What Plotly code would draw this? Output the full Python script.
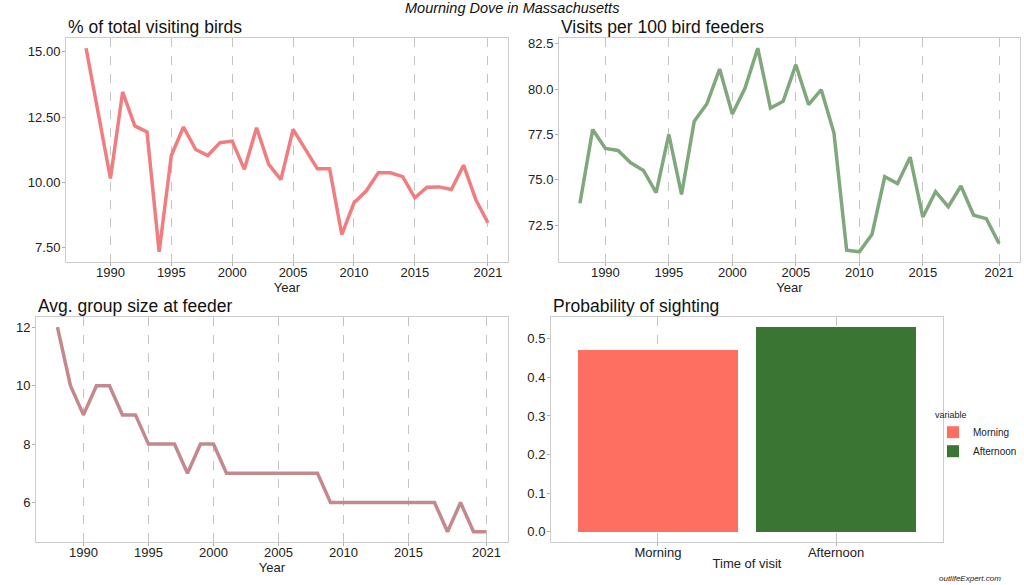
import plotly.graph_objects as go

# ---------------- data ----------------
years = list(range(1988, 2022))

pct_total = [15.13, 12.60, 10.15, 13.46, 12.16, 11.93, 7.35, 11.03, 12.12, 11.26,
             11.03, 11.52, 11.58, 10.50, 12.09, 10.69, 10.11, 12.03, 11.26, 10.52,
             10.52, 8.01, 9.22, 9.67, 10.37, 10.37, 10.22, 9.41, 9.82, 9.83,
             9.73, 10.66, 9.35, 8.46]

visits_per_100 = [73.71, 77.77, 76.73, 76.62, 75.94, 75.52, 74.29, 77.50, 74.20, 78.23,
                  79.20, 81.11, 78.63, 80.06, 82.26, 78.96, 79.33, 81.35, 79.15, 79.97,
                  77.59, 71.12, 71.03, 72.00, 75.17, 74.79, 76.25, 72.95, 74.35, 73.52,
                  74.66, 73.05, 72.86, 71.49]

group_size = [12, 10, 9, 10, 10, 9, 9, 8, 8, 8,
              7, 8, 8, 7, 7, 7, 7, 7, 7, 7,
              7, 6, 6, 6, 6, 6, 6, 6, 6, 6,
              5, 6, 5, 5]

times = ["Morning", "Afternoon"]
prob_sighting = [0.47, 0.53]

year_ticks = [1990, 1995, 2000, 2005, 2010, 2015, 2021]
pct_ticks = [7.5, 10.0, 12.5, 15.0]
visit_ticks = [72.5, 75.0, 77.5, 80.0, 82.5]
group_ticks = [6, 8, 10, 12]
prob_ticks = [0.0, 0.1, 0.2, 0.3, 0.4, 0.5]

# ---------------- style ----------------
FONT = "Liberation Sans, Arial, sans-serif"
TXT = "#222222"
BORDER = "#cccccc"
GRID = "#c4c4c4"
TICKC = "#b0b0b0"
W, H = 1024, 585

def px_x(p):
    return p / W

def px_y(p):
    return 1 - p / H

fig = go.Figure()

fig.add_trace(go.Scatter(x=years, y=pct_total, mode="lines",
                         line=dict(color="#F07E80", width=3.5),
                         xaxis="x", yaxis="y", showlegend=False))
fig.add_trace(go.Scatter(x=years, y=visits_per_100, mode="lines",
                         line=dict(color="#80A87C", width=3.5),
                         xaxis="x2", yaxis="y2", showlegend=False))
fig.add_trace(go.Scatter(x=years, y=group_size, mode="lines",
                         line=dict(color="#C4898D", width=3.5),
                         xaxis="x3", yaxis="y3", showlegend=False))
bar_colors = ["#FF6F61", "#3B7533"]
for t, v, c in zip(times, prob_sighting, bar_colors):
    fig.add_trace(go.Bar(x=[t], y=[v], name=t, marker=dict(color=c, line=dict(width=0)),
                         width=0.9, xaxis="x4", yaxis="y4", showlegend=True))

common_x = dict(showline=True, mirror=True, linecolor=BORDER, linewidth=1,
                showgrid=True, gridcolor=GRID, griddash="dash", gridwidth=1,
                zeroline=False, ticks="outside", ticklen=3, tickwidth=1, tickcolor=TICKC,
                ticklabelstandoff=-5, automargin=False,
                tickfont=dict(size=13, color=TXT, family=FONT),
                title=dict(font=dict(size=13, color=TXT, family=FONT), standoff=0))
common_y = dict(showline=True, mirror=True, linecolor=BORDER, linewidth=1,
                showgrid=False, zeroline=False, automargin=False,
                ticks="outside", ticklen=3, tickwidth=1, tickcolor=TICKC,
                ticklabelstandoff=-1,
                tickfont=dict(size=13, color=TXT, family=FONT))

x_rng = [1986.35, 2022.65]
top_dom = [px_y(262), px_y(38)]
bot_dom = [px_y(542), px_y(317)]

fig.update_layout(
    xaxis=dict(common_x, domain=[px_x(66), px_x(508)], range=x_rng, tickvals=year_ticks,
               anchor="y", title_text="Year"),
    yaxis=dict(common_y, domain=top_dom, range=[6.96, 15.52], tickvals=pct_ticks,
               tickformat=".2f", ticksuffix="%", anchor="x"),
    xaxis2=dict(common_x, domain=[px_x(559), px_x(1020)], range=x_rng, tickvals=year_ticks,
                anchor="y2", title_text="Year"),
    yaxis2=dict(common_y, domain=top_dom, range=[70.47, 82.82], tickvals=visit_ticks,
                tickformat=".1f", anchor="x2"),
    xaxis3=dict(common_x, domain=[px_x(36), px_x(508)], range=x_rng, tickvals=year_ticks,
                anchor="y3", title_text="Year"),
    yaxis3=dict(common_y, domain=bot_dom, range=[4.65, 12.35], tickvals=group_ticks,
                anchor="x3"),
    xaxis4=dict(common_x, domain=[px_x(551), px_x(943)], range=[-0.6, 1.6],
                type="category", categoryorder="array", categoryarray=times,
                anchor="y4", title_text="Time of visit"),
    yaxis4=dict(common_y, domain=bot_dom, range=[-0.0265, 0.5565], tickvals=prob_ticks,
                tickformat=".1f", anchor="x4"),
    width=W, height=H, autosize=False,
    margin=dict(l=0, r=0, t=0, b=0, autoexpand=False),
    paper_bgcolor="white", plot_bgcolor="white",
    font=dict(family=FONT, color=TXT),
    bargap=0,
    legend=dict(x=px_x(933), y=px_y(406), xanchor="left", yanchor="top",
                title=dict(text="variable", font=dict(size=9, color=TXT)),
                font=dict(size=10, color=TXT), bgcolor="rgba(0,0,0,0)",
                tracegroupgap=0, itemsizing="constant", itemwidth=30),
)

titles = [("% of total visiting birds", 66, 27),
          ("Visits per 100 bird feeders", 559, 27),
          ("Avg. group size at feeder", 36, 306),
          ("Probability of sighting", 551, 306)]
for text, x, y in titles:
    fig.add_annotation(text=text, x=px_x(x), y=px_y(y), xref="paper", yref="paper",
                       xanchor="left", yanchor="middle", showarrow=False,
                       font=dict(size=17.5, color="#111111", family=FONT))

fig.add_annotation(text="Mourning Dove in Massachusetts", x=0.5, y=px_y(8),
                   xref="paper", yref="paper", xanchor="center", yanchor="middle",
                   showarrow=False,
                   font=dict(size=14.5, color="#111111", family=FONT, style="italic"))
fig.add_annotation(text="outlifeExpert.com", x=px_x(1003), y=px_y(578),
                   xref="paper", yref="paper", xanchor="right", yanchor="middle",
                   showarrow=False,
                   font=dict(size=8, color="#222222", family=FONT, style="italic"))

post = (
    "document.body.style.margin='0';"
    "document.body.style.overflow='hidden';"
)

fig.write_html(
    "out.html",
    config={"displayModeBar": False, "responsive": False},
    post_script=post,
)
